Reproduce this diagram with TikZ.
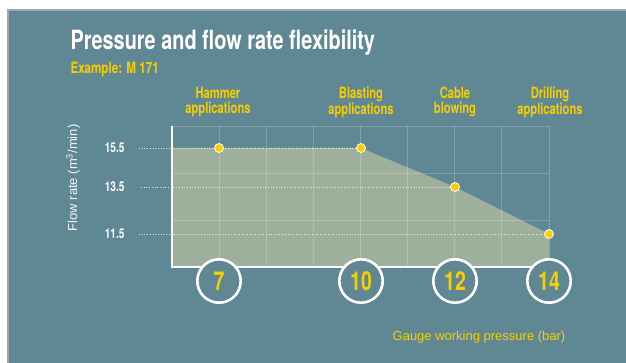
\documentclass[tikz,border=0pt]{standalone}
\usepackage{fontspec}
\setmainfont{Liberation Sans}
\newfontfamily\condfont[FakeStretch=0.75]{TeX Gyre Heros}
\newfontfamily\narrowfont[FakeStretch=0.72]{TeX Gyre Heros}
\definecolor{panel}{HTML}{5F8794}
\definecolor{sage}{HTML}{9EB09C}
\definecolor{signal}{RGB}{247,207,0}

\begin{document}
\begin{tikzpicture}[x=1pt,y=-1pt]
    \tikzset{gridline/.style={white, opacity=0.2, line width=0.9pt}}
    \tikzset{axisline/.style={white, line width=1.2pt}}
    \tikzset{guide/.style={white, dotted, line width=0.7pt, opacity=0.85}}
    \tikzset{dot/.style={circle, fill=signal, draw=white, line width=0.8pt, inner sep=0pt, minimum size=9pt}}
    \tikzset{pressure/.style={circle, draw=white, line width=2.6pt, fill=panel, inner sep=0pt, minimum size=43.4pt, text=signal, font=\condfont\bfseries\fontsize{26}{26}\selectfont}}
    \tikzset{usage/.style={align=center, text=signal, font=\narrowfont\bfseries\fontsize{15.5}{14.5}\selectfont}}
    \tikzset{flow/.style={anchor=east, text=white, font=\condfont\bfseries\fontsize{13.5}{13.5}\selectfont}}

    \useasboundingbox (0,0) rectangle (626,363);
    \fill[white] (0,0) rectangle (626,363);
    \fill[panel] (8,10) rectangle (626,363);
    \draw[gray!70, line width=1.5pt] (8,363) -- (8,10) -- (626,10);

    \node[anchor=base west, text=white, font=\condfont\bfseries\fontsize{26.5}{26.5}\selectfont] (title) at (67,50) {Pressure and flow rate flexibility};
    \node[anchor=base west, text=signal, font=\condfont\bfseries\fontsize{15.5}{15.5}\selectfont] (example) at (67,73.5) {Example: M 171};

    \coordinate (q7) at (219,148);
    \coordinate (q10) at (361,148);
    \coordinate (q12) at (455,187);
    \coordinate (q14) at (549,234);
    \coordinate (origin) at (172,267);
    \coordinate (corner) at (549,267);

    \fill[sage] (origin) -- (172,148) -- (q10) -- (q12) -- (q14) -- (corner) -- cycle;
    \foreach \i in {1,...,8}
        \draw[gridline] ({172+47.125*\i},126) -- ({172+47.125*\i},267);
    \foreach \y in {126,173,220}
        \draw[gridline] (172,\y) -- (549,\y);
    \draw[axisline] (172,126) -- (origin) -- (corner);

    \node[flow] (f155) at (128,148) {15.5};
    \node[flow] (f135) at (128,187) {13.5};
    \node[flow] (f115) at (128,234) {11.5};
    \coordinate (g155) at (139,148);
    \coordinate (g135) at (141,187);
    \coordinate (g115) at (139,234);
    \draw[guide] (g155) -- (q10);
    \draw[guide] (g135) -- (q12);
    \draw[guide] (g115) -- (q14);

    \node[dot] (p7) at (q7) {};
    \node[dot] (p10) at (q10) {};
    \node[dot] (p12) at (q12) {};
    \node[dot] (p14) at (q14) {};

    \node[pressure] (c7) at (219,281) {7};
    \node[pressure] (c10) at (361,281) {10};
    \node[pressure] (c12) at (455,281) {12};
    \node[pressure] (c14) at (549,281) {14};

    \node[usage] (hammer) at (218,102) {Hammer\\applications};
    \node[usage] (blasting) at (361,102) {Blasting\\applications};
    \node[usage] (cable) at (455,102) {Cable\\blowing};
    \node[usage] (drilling) at (550,102) {Drilling\\applications};

    \node[rotate=90, text=white!92!panel, font=\fontsize{13}{13}\selectfont] (ylabel) at (73,178) {Flow rate (m\textsuperscript{3}/min)};
    \node[text=signal, font=\fontsize{13}{13}\selectfont] (xlabel) at (479,337) {Gauge working pressure (bar)};
\end{tikzpicture}
\end{document}
